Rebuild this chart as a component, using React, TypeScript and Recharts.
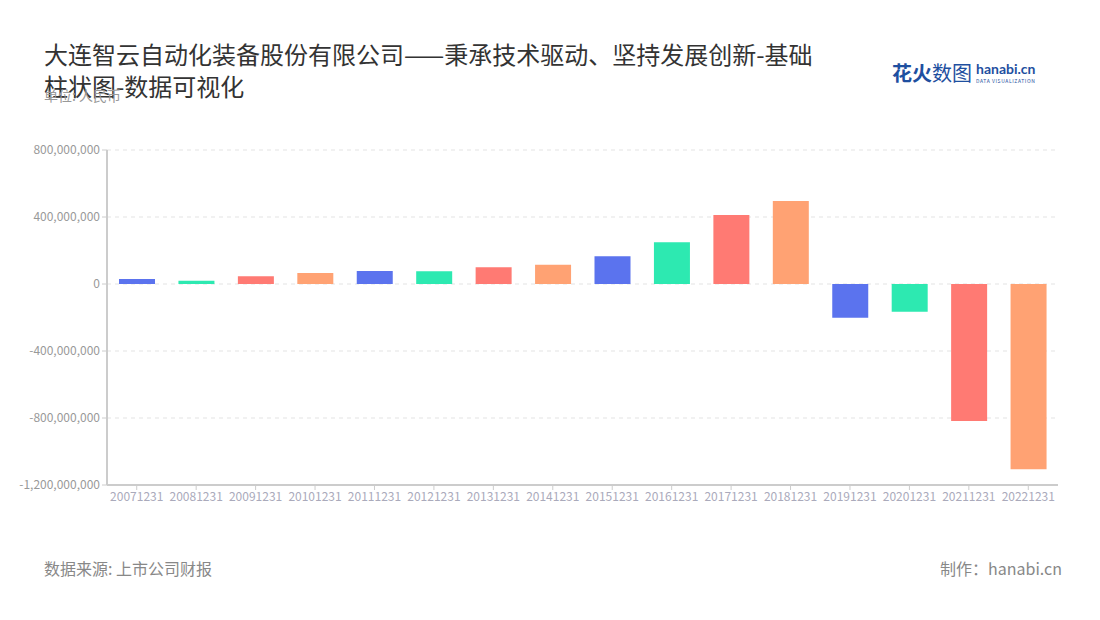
import React from 'react';
import { BarChart, Bar, Cell, XAxis, YAxis, CartesianGrid } from 'recharts';

const periods = [
    '20071231', '20081231', '20091231', '20101231', '20111231', '20121231', '20131231', '20141231',
    '20151231', '20161231', '20171231', '20181231', '20191231', '20201231', '20211231', '20221231',
];

const netProfit = [
    30000000, 20000000, 46000000, 66000000, 78000000, 76000000, 100000000, 115000000,
    165000000, 249000000, 412000000, 496000000, -201000000, -165000000, -818000000, -1106000000,
];

const yTicks = [-1200000000, -800000000, -400000000, 0, 400000000, 800000000];

const palette = ['#5b73ee', '#2de9b1', '#ff7a73', '#ffa273'];

const data = periods.map((p, i) => ({ period: p, value: netProfit[i] }));

const font = '"Noto Sans CJK SC", "Noto Sans", sans-serif';

export default function App() {
    return (
        <div style={{ position: 'absolute', left: 0, top: 0, width: 1100, height: 620, background: '#fff', fontFamily: font, overflow: 'hidden' }}>
            <div style={{ position: 'absolute', left: 44, top: 38, fontSize: 24, lineHeight: '32px', color: '#333', width: 820 }}>
                大连智云自动化装备股份有限公司——秉承技术驱动、坚持发展创新-基础<br />柱状图-数据可视化
            </div>
            <div style={{ position: 'absolute', left: 44, top: 85, fontSize: 14, color: '#999' }}>单位: 人民币</div>

            {/* logo */}
            <div style={{ position: 'absolute', left: 892, top: 58, display: 'flex', alignItems: 'center' }}>
                <span style={{ fontSize: 20, fontWeight: 700, color: '#1e4fa0' }}>花火</span>
                <span style={{ fontSize: 20, fontWeight: 400, color: '#1e4fa0' }}>数图</span>
                <div style={{ marginLeft: 4, display: 'flex', flexDirection: 'column', lineHeight: 1 }}>
                    <span style={{ fontSize: 14, fontWeight: 700, color: '#1e4fa0', fontFamily: 'Lato, sans-serif' }}>hanabi.cn</span>
                    <span style={{ fontSize: 5, color: '#1e4fa0', letterSpacing: 0.6, marginTop: 2 }}>DATA VISUALIZATION</span>
                </div>
            </div>

            <div style={{ position: 'absolute', left: 0, top: 0 }}>
                <BarChart width={1100} height={620} data={data} margin={{ top: 150, right: 42, bottom: 105, left: 7 }}>
                    <CartesianGrid vertical={false} stroke="#e3e3e3" strokeDasharray="4 4" />
                    <XAxis
                        dataKey="period"
                        interval={0}
                        height={30}
                        tickLine={{ stroke: '#ccc' }}
                        axisLine={{ stroke: '#ccc', strokeWidth: 2 }}
                        tick={{ fill: '#aab', fontSize: 12, fontFamily: font }}
                        tickSize={5}
                    />
                    <YAxis
                        width={100}
                        domain={[-1200000000, 800000000]}
                        ticks={yTicks}
                        interval={0}
                        tickFormatter={(v: number) => v.toLocaleString('en-US')}
                        tickLine={{ stroke: '#ccc' }}
                        axisLine={{ stroke: '#ccc', strokeWidth: 2 }}
                        tick={{ fill: '#999', fontSize: 12, fontFamily: font }}
                        tickSize={5}
                    />
                    <Bar dataKey="value" barSize={36} isAnimationActive={false}>
                        {data.map((d, i) => (
                            <Cell key={d.period} fill={palette[i % palette.length]} />
                        ))}
                    </Bar>
                </BarChart>
            </div>

            <div style={{ position: 'absolute', left: 44, top: 556, fontSize: 16, color: '#888' }}>数据来源: 上市公司财报</div>
            <div style={{ position: 'absolute', right: 38, top: 556, fontSize: 16, color: '#888' }}>制作：hanabi.cn</div>
        </div>
    );
}
